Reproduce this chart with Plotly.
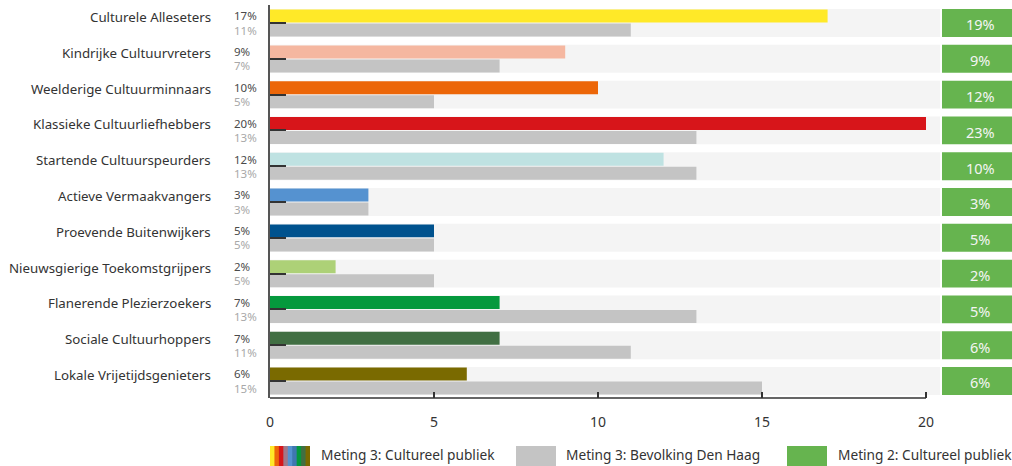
import plotly.graph_objects as go

# Segment names and shares (%)
categories = [
    "Culturele Alleseters", "Kindrijke Cultuurvreters", "Weelderige Cultuurminnaars",
    "Klassieke Cultuurliefhebbers", "Startende Cultuurspeurders", "Actieve Vermaakvangers",
    "Proevende Buitenwijkers", "Nieuwsgierige Toekomstgrijpers", "Flanerende Plezierzoekers",
    "Sociale Cultuurhoppers", "Lokale Vrijetijdsgenieters",
]
meting3_publiek = [17, 9, 10, 20, 12, 3, 5, 2, 7, 7, 6]
meting3_bevolking = [11, 7, 5, 13, 13, 3, 5, 5, 13, 11, 15]
meting2_publiek = [19, 9, 12, 23, 10, 3, 5, 2, 5, 6, 6]
segment_colors = [
    "#ffe928", "#f5b7a0", "#ec6608", "#d7151a", "#bfe2e2", "#5592d0",
    "#00528e", "#add177", "#05993d", "#416f43", "#7a6a00",
]
# stripes of the multi-colour legend key
swatch_colors = ["#ffe928", "#ec6608", "#d7151a", "#a0798a", "#5592d0",
                 "#3f78b0", "#05993d", "#416f43", "#7a6a00"]
x_ticks = [0, 5, 10, 15, 20]
legend_labels = ["Meting 3: Cultureel publiek", "Meting 3: Bevolking Den Haag",
                 "Meting 2: Cultureel publiek"]

GREY = "#c4c4c4"
BAND = "#f4f4f4"
GREEN = "#66b44f"
FONT = "Noto Sans"

W, H = 1012, 466
ML, MR, MT, MB = 270, 0, 5, 68
PW = W - ML - MR
PH = H - MT - MB
PX_PER_UNIT = 32.8
X_MAX = PW / PX_PER_UNIT

n = len(categories)
rows = list(range(n))

def px_x(px):
    return (px - ML) / PW

def px_y(py):
    return (H - MB - py) / PH

fig = go.Figure()
fig.add_trace(go.Bar(
    y=rows, x=meting3_publiek, orientation="h",
    marker=dict(color=segment_colors, line=dict(width=0)),
    width=0.363, offset=-0.375, hoverinfo="x",
))
fig.add_trace(go.Bar(
    y=rows, x=meting3_bevolking, orientation="h",
    marker=dict(color=GREY, line=dict(width=0)),
    width=0.363, offset=0.017, hoverinfo="x",
))

shapes = []
annotations = []
band_end = (940 - ML) / PX_PER_UNIT
box_start = (942 - ML) / PX_PER_UNIT
for i in rows:
    shapes.append(dict(type="rect", xref="x", yref="y", x0=0, x1=band_end,
                       y0=i - 0.39, y1=i + 0.39, fillcolor=BAND,
                       line=dict(width=0), layer="below"))
    shapes.append(dict(type="rect", xref="x", yref="y", x0=box_start, x1=X_MAX,
                       y0=i - 0.39, y1=i + 0.39, fillcolor=GREEN,
                       line=dict(width=0), layer="below"))
    annotations.append(dict(xref="x", yref="y", x=(980 - ML) / PX_PER_UNIT, y=i + 0.04,
                            text=f"{meting2_publiek[i]}%", showarrow=False,
                            font=dict(family=FONT, size=14.5, color="#f4f4f4")))
    annotations.append(dict(xref="paper", yref="y", x=px_x(213), y=i - 0.17,
                            xanchor="right", text=categories[i], showarrow=False,
                            font=dict(family=FONT, size=13.3, color="#333333")))
    annotations.append(dict(xref="paper", yref="y", x=px_x(232), y=i - 0.2,
                            xanchor="left", text=f"{meting3_publiek[i]}%", showarrow=False,
                            font=dict(family=FONT, size=11.5, color="#4a4a4a")))
    annotations.append(dict(xref="paper", yref="y", x=px_x(232), y=i + 0.2,
                            xanchor="left", text=f"{meting3_bevolking[i]}%", showarrow=False,
                            font=dict(family=FONT, size=11.5, color="#a8a8a8")))

# bottom axis line, only across the scale 0..20
shapes.append(dict(type="line", xref="x", yref="paper", x0=0, x1=x_ticks[-1],
                   y0=0, y1=0, line=dict(color="#333333", width=1.5), layer="above"))

# legend
sw_top, sw_bot = px_y(446), px_y(466)
n_c = len(swatch_colors)
sw_w = 40
step = sw_w / n_c
for k, c in enumerate(swatch_colors):
    right = 270 + (k + 1) * step + (1.0 if k < n_c - 1 else 0)
    shapes.append(dict(type="rect", xref="paper", yref="paper",
                       x0=px_x(270 + k * step), x1=px_x(right),
                       y0=sw_bot, y1=sw_top, fillcolor=c, line=dict(width=0)))
for (sx, col) in [(516, GREY), (787, GREEN)]:
    shapes.append(dict(type="rect", xref="paper", yref="paper",
                       x0=px_x(sx), x1=px_x(sx + 40), y0=sw_bot, y1=sw_top,
                       fillcolor=col, line=dict(width=0)))
for lx, txt in zip([319, 564, 836], legend_labels):
    annotations.append(dict(xref="paper", yref="paper", x=px_x(lx), y=px_y(455),
                            xanchor="left", yanchor="middle", text=txt, showarrow=False,
                            font=dict(family=FONT, size=13.7, color="#333333")))

fig.update_layout(
    width=W, height=H,
    margin=dict(l=ML, r=MR, t=MT, b=MB),
    paper_bgcolor="white", plot_bgcolor="white",
    barmode="overlay", showlegend=False,
    shapes=shapes, annotations=annotations,
    font=dict(family=FONT, color="#333333"),
)
fig.update_xaxes(
    range=[0, X_MAX], showgrid=False, zeroline=False, showline=False,
    tickvals=x_ticks, ticks="inside", ticklen=6, tickwidth=1.5, tickcolor="#333333",
    ticklabelstandoff=14, tickfont=dict(family=FONT, size=14, color="#333333"),
    fixedrange=True,
)
fig.update_yaxes(
    range=[n - 1 + 0.475, -0.503], showgrid=False, zeroline=False,
    showline=True, linecolor="#555555", linewidth=2,
    tickvals=rows, showticklabels=False, ticks="inside", ticklen=16,
    tickwidth=2, tickcolor="#333333", fixedrange=True,
)

fig.write_html("out.html")
